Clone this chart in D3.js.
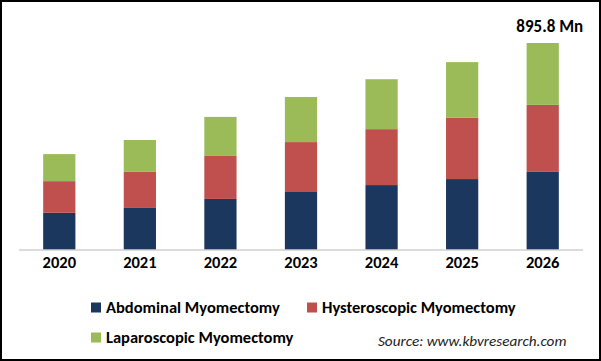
<!DOCTYPE html>
<html>
<head>
<meta charset="utf-8">
<script src="https://cdn.jsdelivr.net/npm/d3@7"></script>
<style>
  html, body { margin: 0; padding: 0; background: #fff; }
  svg { display: block; }
  text { font-family: Carlito, Lato, "Open Sans", sans-serif; }
</style>
</head>
<body>
<svg id="chart" width="601" height="361"></svg>
<script>
// ---- data ----
const years = ["2020", "2021", "2022", "2023", "2024", "2025", "2026"];
const abdominal    = [161, 182, 221, 251, 281, 307, 338];
const hysteroscopic = [137, 156, 186, 216, 242, 265, 290];
const laparoscopic = [117, 138, 169, 195, 216, 241, 267.8];
const seriesNames = ["Abdominal Myomectomy", "Hysteroscopic Myomectomy", "Laparoscopic Myomectomy"];
const seriesColors = ["#1c375e", "#c0504d", "#9bbb59"];
const topLabel = "895.8 Mn";
const sourceText = "Source: www.kbvresearch.com";

// ---- build table ----
const table = years.map((y, i) => ({
  year: y,
  "Abdominal Myomectomy": abdominal[i],
  "Hysteroscopic Myomectomy": hysteroscopic[i],
  "Laparoscopic Myomectomy": laparoscopic[i]
}));
const stacked = d3.stack().keys(seriesNames)(table);
const totalMax = d3.max(table, d => seriesNames.reduce((s, k) => s + d[k], 0));

const W = 601, H = 361;
const svg = d3.select("#chart");

// border
svg.append("rect").attr("x", 1).attr("y", 1).attr("width", W - 2).attr("height", H - 2)
  .attr("fill", "#fff").attr("stroke", "#000").attr("stroke-width", 2);

const x = d3.scaleBand().domain(years).range([19, 583]).paddingInner(0.6).paddingOuter(0.3);
const y = d3.scaleLinear().domain([0, totalMax]).range([250, 43]);

// bars
svg.append("g").selectAll("g").data(stacked).join("g")
  .attr("fill", (d, i) => seriesColors[i])
  .selectAll("rect").data(d => d).join("rect")
  .attr("x", d => x(d.data.year))
  .attr("width", x.bandwidth())
  .attr("y", d => y(d[1]))
  .attr("height", d => y(d[0]) - y(d[1]));

// baseline axis
const xAxis = svg.append("g").attr("transform", "translate(0,250)")
  .call(d3.axisBottom(x).tickSize(0).tickPadding(16));
xAxis.select(".domain").attr("stroke", "#d0d0d0").attr("stroke-width", 1.3)
  .attr("d", "M19,0H583");
xAxis.selectAll("text").attr("font-size", 16.5).attr("font-weight", "bold")
  .attr("fill", "#000").attr("dy", "0.1em");

// top label
const last = table[table.length - 1];
svg.append("text")
  .attr("x", x(last.year) + x.bandwidth() / 2 + 7)
  .attr("y", y(totalMax) - 11)
  .attr("text-anchor", "middle")
  .attr("font-size", 17).attr("font-weight", "bold").attr("fill", "#000")
  .text(topLabel);

// legend
const legendPos = [[91, 302.5], [307, 302.5], [91, 332.5]];
const lg = svg.append("g").selectAll("g").data(seriesNames).join("g")
  .attr("transform", (d, i) => `translate(${legendPos[i][0]},${legendPos[i][1]})`);
lg.append("rect").attr("width", 10).attr("height", 10).attr("fill", (d, i) => seriesColors[i]);
lg.append("text").attr("x", 15).attr("y", 10.3).attr("font-size", 16.5).attr("font-weight", "bold")
  .attr("fill", "#000").text(d => d);

// source
svg.append("text").attr("x", 378).attr("y", 345.5)
  .attr("font-size", 15.2).attr("font-style", "italic").attr("fill", "#222")
  .text(sourceText);
</script>
</body>
</html>
